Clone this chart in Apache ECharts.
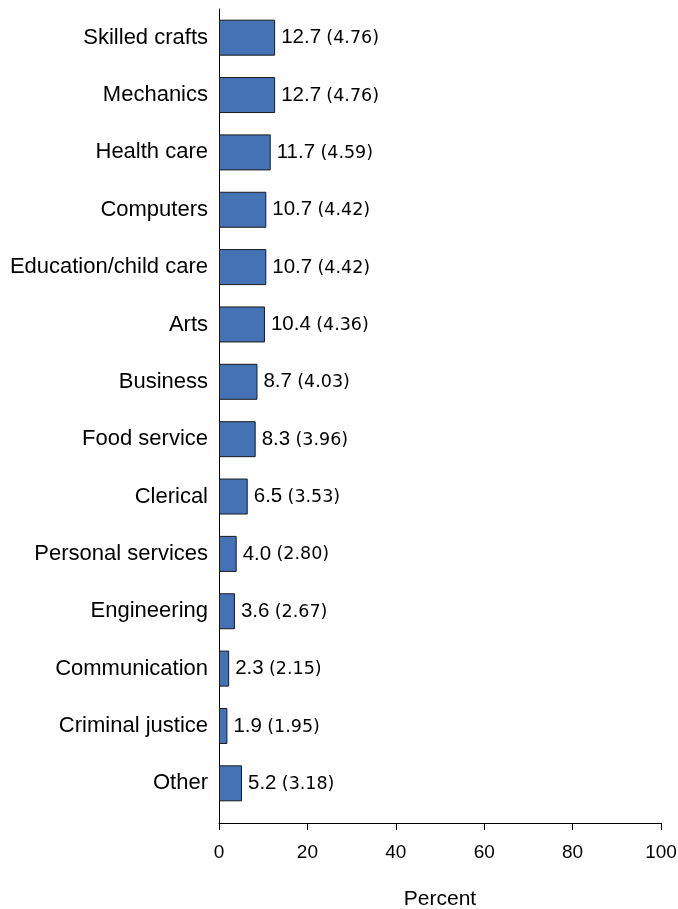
<!DOCTYPE html>
<html>
<head>
<meta charset="utf-8">
<script src="https://cdn.jsdelivr.net/npm/echarts@6/dist/echarts.min.js"></script>
<style>html,body{margin:0;padding:0;background:#fff;}#c{width:678px;height:909px;}</style>
</head>
<body>
<div id="c"></div>
<script>
const categories = ['Skilled crafts','Mechanics','Health care','Computers','Education/child care','Arts','Business','Food service','Clerical','Personal services','Engineering','Communication','Criminal justice','Other'];
const percents = [12.7,12.7,11.7,10.7,10.7,10.4,8.7,8.3,6.5,4.0,3.6,2.3,1.9,5.2];
const stdErrors = ['4.76','4.76','4.59','4.42','4.42','4.36','4.03','3.96','3.53','2.80','2.67','2.15','1.95','3.18'];
const xTicks = [0,20,40,60,80,100];

const FONT = 'Liberation Sans, Arial, sans-serif';
const chart = echarts.init(document.getElementById('c'), null, {renderer:'canvas'});
chart.setOption({
  animation:false,
  backgroundColor:'#fff',
  grid:[
    {left:219, right:17, top:9, height:814, containLabel:false, outerBoundsMode:'none'},
    {left:219, right:17, top:9, height:803, containLabel:false, outerBoundsMode:'none'}
  ],
  xAxis:[
    {gridIndex:0, type:'value', min:xTicks[0], max:xTicks[xTicks.length-1], interval:20,
     axisLine:{show:true, lineStyle:{color:'#000', width:1}},
     axisTick:{show:true, length:7, lineStyle:{color:'#000'}},
     splitLine:{show:false},
     axisLabel:{color:'#000', fontSize:19, fontFamily:FONT, margin:20},
     name:'Percent', nameLocation:'middle', nameGap:66,
     nameTextStyle:{color:'#000', fontSize:21, fontFamily:FONT}},
    {gridIndex:1, type:'value', min:0, max:100, show:false}
  ],
  yAxis:[
    {gridIndex:0, type:'category', data:[''], inverse:true,
     axisLine:{show:true, lineStyle:{color:'#000', width:1}},
     axisTick:{show:false}, axisLabel:{show:false}},
    {gridIndex:1, type:'category', data:categories, inverse:true,
     axisLine:{show:false}, axisTick:{show:false},
     axisLabel:{color:'#000', fontSize:22, fontFamily:FONT, margin:11}}
  ],
  series:[{
    type:'bar', xAxisIndex:1, yAxisIndex:1,
    data:percents, barWidth:36,
    itemStyle:{color:'#4472B4', borderColor:'#1a1a1a', borderWidth:1},
    label:{show:true, position:'right', distance:6,
      formatter:function(p){return '{a|'+percents[p.dataIndex].toFixed(1)+'} {b|('+stdErrors[p.dataIndex]+')}';},
      rich:{a:{color:'#000', fontSize:20.5, fontFamily:FONT}, b:{color:'#000', fontSize:17.5, fontFamily:'DejaVu Sans, sans-serif', padding:[2,0,0,2]}}}
  }]
});
</script>
</body>
</html>
